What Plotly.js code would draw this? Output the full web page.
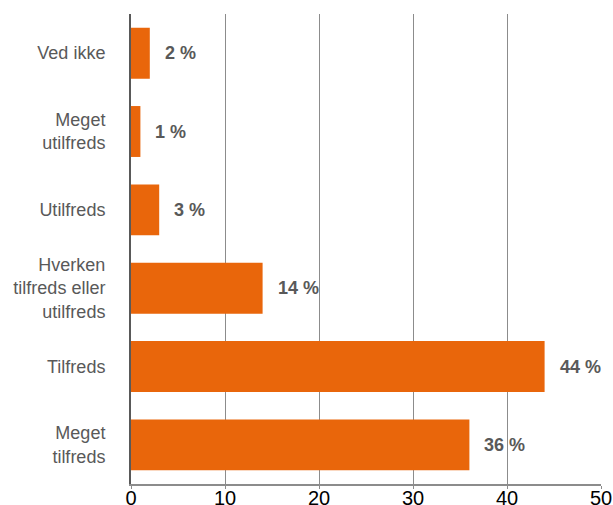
<!DOCTYPE html>
<html>
<head>
<meta charset="utf-8">
<script src="https://cdn.plot.ly/plotly-3.0.1.min.js"></script>
<style>
  html, body { margin: 0; padding: 0; background: #ffffff; }
  #chart { width: 613px; height: 505px; }
</style>
</head>
<body>
<div id="chart"></div>
<script>
// Answer categories, listed from top to bottom
const categories = [
  "Ved ikke",
  "Meget<br>utilfreds",
  "Utilfreds",
  "Hverken<br>tilfreds eller<br>utilfreds",
  "Tilfreds",
  "Meget<br>tilfreds"
];
// Share of respondents (%)
const shares = [2, 1, 3, 14, 44, 36];
// X axis ticks
const xTicks = [0, 10, 20, 30, 40, 50];

const barColor = "#E9660B";
const textGray = "#595959";

const trace = {
  type: "bar",
  orientation: "h",
  y: categories,
  x: shares,
  marker: { color: barColor, line: { width: 0 } },
  hoverinfo: "skip"
};

const annotations = categories.map((c, i) => ({
  x: shares[i],
  y: c,
  xref: "x",
  yref: "y",
  text: "<b>" + shares[i] + " %</b>",
  showarrow: false,
  xanchor: "left",
  yanchor: "middle",
  xshift: 13,
  font: { family: "Liberation Sans, Arial, sans-serif", size: 18, color: textGray }
}));

const layout = {
  width: 613,
  height: 505,
  margin: { l: 131, r: 12, t: 14, b: 21, pad: 0 },
  paper_bgcolor: "#ffffff",
  plot_bgcolor: "#ffffff",
  showlegend: false,
  bargap: 0.35,
  font: { family: "Liberation Sans, Arial, sans-serif", color: textGray },
  xaxis: {
    range: [0, 50],
    tickvals: xTicks,
    ticktext: xTicks.map(String),
    showgrid: true,
    gridcolor: "#8c8c8c",
    gridwidth: 1,
    zeroline: false,
    showline: true,
    linecolor: "#8c8c8c",
    linewidth: 1.5,
    ticks: "outside",
    ticklen: 3,
    tickcolor: "#8c8c8c",
    ticklabelstandoff: -8,
    tickfont: { family: "Liberation Sans, Arial, sans-serif", size: 20, color: "#000000" },
    fixedrange: true
  },
  yaxis: {
    autorange: "reversed",
    type: "category",
    showgrid: false,
    zeroline: false,
    showline: true,
    linecolor: "#595959",
    linewidth: 2,
    ticks: "",
    ticklabelstandoff: 20,
    tickfont: { family: "Liberation Sans, Arial, sans-serif", size: 18, color: textGray },
    automargin: false,
    fixedrange: true
  },
  annotations: annotations
};

Plotly.newPlot("chart", [trace], layout, { displayModeBar: false, staticPlot: true });
</script>
</body>
</html>
